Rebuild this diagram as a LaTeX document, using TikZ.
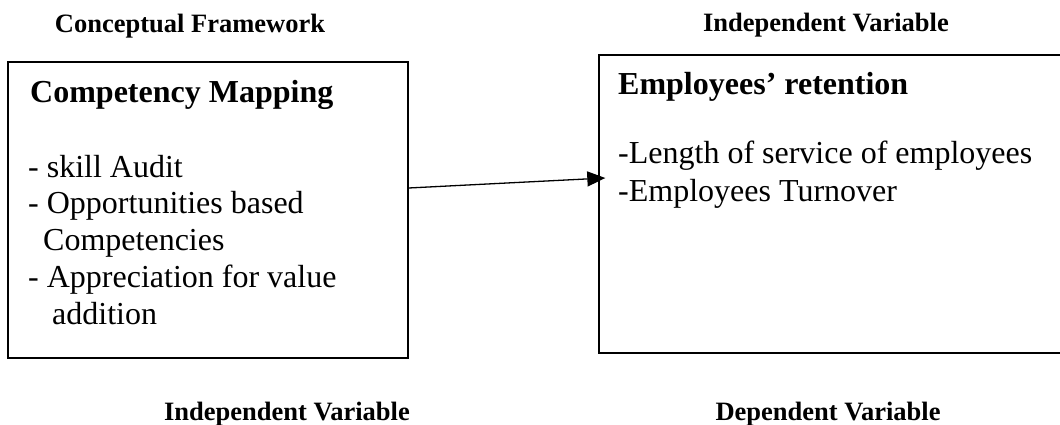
\documentclass[tikz,border=0pt]{standalone}
\usepackage{fontspec}
\setmainfont{Liberation Serif}
\usetikzlibrary{arrows.meta}

\begin{document}
\begin{tikzpicture}[x=1pt,y=-1pt,
    box/.style={draw,line width=1.4pt,inner sep=0pt},
    head/.style={font=\bfseries\fontsize{32}{36}\selectfont,anchor=base west,inner sep=0pt},
    item/.style={font=\fontsize{32}{36}\selectfont,anchor=base west,inner sep=0pt},
    lbl/.style={font=\bfseries\fontsize{26.5}{30}\selectfont,anchor=base,inner sep=0pt}
  ]
  \clip (0,0) rectangle (1060,425);
  % the two boxes, the right one runs off the page
  \node [box,minimum width=400pt,minimum height=296pt] (cm) at (208,210) {};
  \node [box,minimum width=471pt,minimum height=298pt] (er) at (834.5,204) {};

  \node [head] (cmt) at (30,103) {Competency Mapping};
  \foreach \t [count=\i] in {- skill Audit,- Opportunities based,\hspace*{15pt}Competencies,
      - Appreciation for value,\hspace*{24pt}addition} {
    \node [item] (cm\i) at (28,{177+36.8*(\i-1)}) {\t};
  }

  \node [head] (ert) at (618,95) {Employees’ retention};
  \node [item] (er1) at (618,164) {-Length of service of employees};
  \node [item] (er2) at (618,201) {-Employees Turnover};

  \draw [line width=1.3pt,-{Triangle[length=18pt,width=15pt]}]
    ([yshift=22pt]cm.east) -- ([xshift=7pt,yshift=26pt]er.west);

  \node [lbl] (cf) at (190,33) {Conceptual Framework};
  \node [lbl] (iv1) at (826,32) {Independent Variable};
  \node [lbl] (iv2) at (287,420) {Independent Variable};
  \node [lbl] (dv) at (828,420) {Dependent Variable};
\end{tikzpicture}
\end{document}
